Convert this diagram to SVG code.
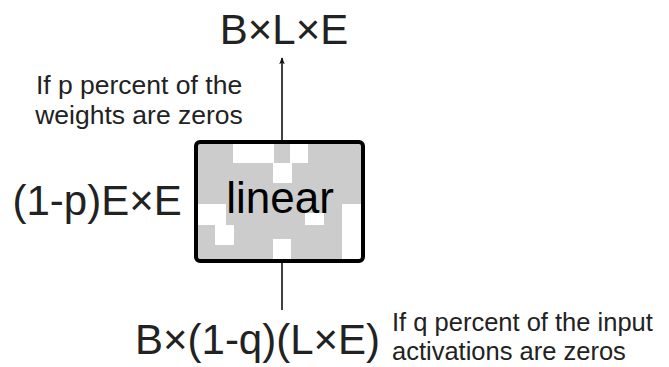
<svg xmlns="http://www.w3.org/2000/svg" width="669" height="367" viewBox="0 0 669 367">
  <style>
    .t { font-family: "Liberation Sans", Arial, sans-serif; fill: #222; }
    .big { font-size: 42px; }
    .small { font-size: 26.5px; }
    .note { font-size: 25.5px; }
    .cell { fill: #fff; }
    .conn { stroke: #111; stroke-width: 1.6; fill: none; }
  </style>
  <defs>
    <marker id="arrow" viewBox="0 0 10 10" refX="9" refY="5" markerWidth="7" markerHeight="7" markerUnits="userSpaceOnUse" orient="auto">
      <path d="M0,1 L10,5 L0,9 L2.5,5 Z" fill="#111"/>
    </marker>
  </defs>

  <g id="connectors">
    <line class="conn" x1="282" y1="140" x2="282" y2="58" marker-end="url(#arrow)"/>
    <line class="conn" x1="282" y1="310" x2="282" y2="263"/>
  </g>

  <g id="linear">
    <rect x="196" y="142" width="167" height="119" rx="4" fill="#cccccc"/>
    <rect class="cell" x="233" y="144" width="41" height="19"/>
    <rect class="cell" x="290" y="144" width="18" height="19"/>
    <rect class="cell" x="273" y="163" width="19" height="20"/>
    <rect class="cell" x="198" y="204" width="28" height="21"/>
    <rect class="cell" x="215" y="225" width="19" height="20"/>
    <rect class="cell" x="305" y="213" width="19" height="12"/>
    <rect class="cell" x="273" y="239" width="18" height="20"/>
    <rect class="cell" x="342" y="204" width="19" height="55"/>
    <rect x="196" y="142" width="167" height="119" rx="4" fill="none" stroke="#000" stroke-width="4"/>
    <text class="t" x="280" y="213" font-size="44" text-anchor="middle" style="fill:#000">linear</text>
  </g>

  <g id="output">
    <text class="t big" x="284" y="44" text-anchor="middle">B×L×E</text>
  </g>

  <g id="weights">
    <text class="t big" x="12.5" y="215">(1-p)E×E</text>
    <text class="t small" x="139" y="94" text-anchor="middle">If p percent of the</text>
    <text class="t small" x="139" y="124" text-anchor="middle">weights are zeros</text>
  </g>

  <g id="input">
    <text class="t big" x="135" y="354">B×(1-q)(L×E)</text>
    <text class="t note" x="392" y="331">If q percent of the input</text>
    <text class="t note" x="392" y="360">activations are zeros</text>
  </g>
</svg>
